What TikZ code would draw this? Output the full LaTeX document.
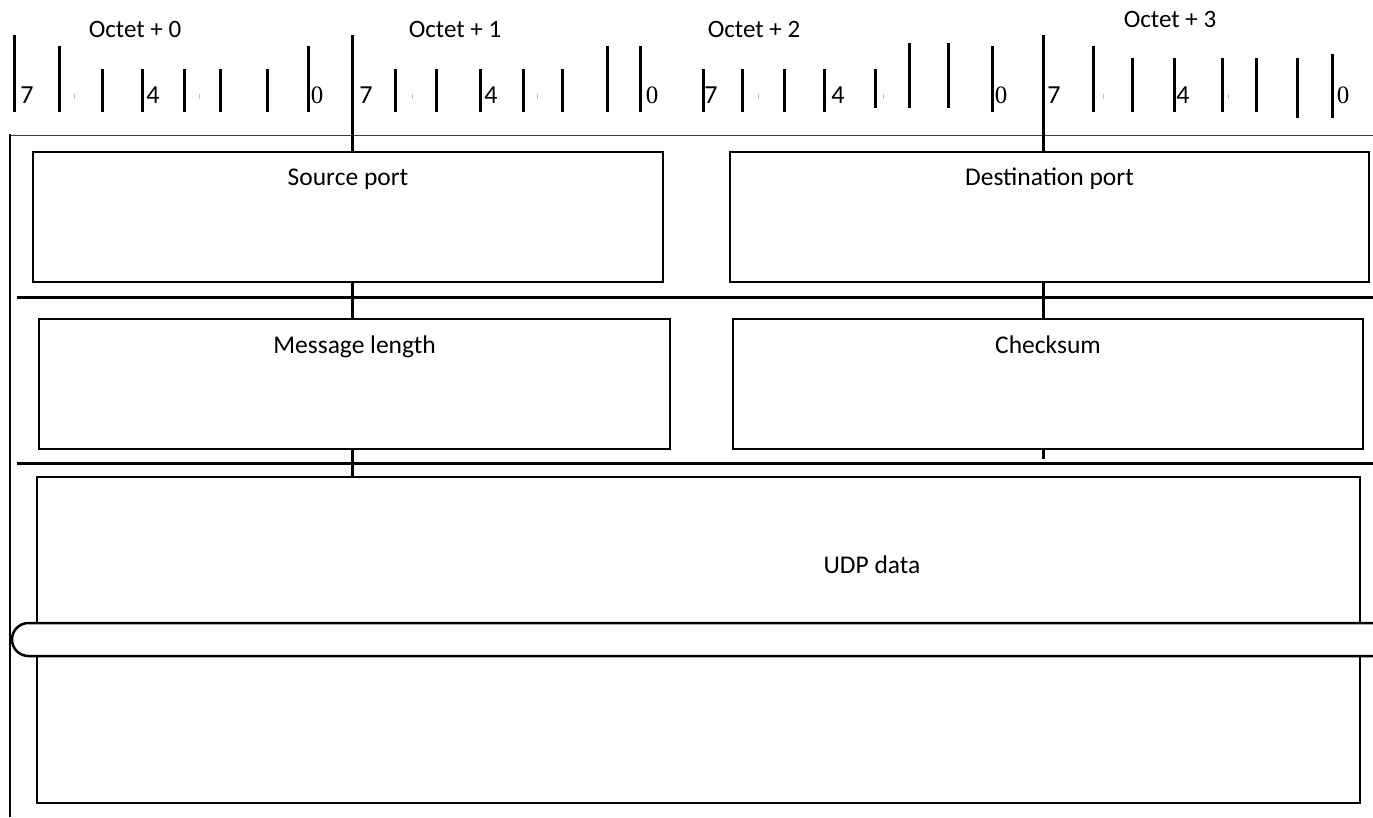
\documentclass[tikz,border=0pt]{standalone}
\usepackage{fontspec}
\setmainfont{Carlito}
\newfontfamily\serifdig{Liberation Serif}
\begin{document}
\begin{tikzpicture}[x=1pt,y=-1pt,
  box/.style={draw=black,line width=2.5pt,fill=none,inner sep=0pt,outer sep=0pt},
  lbl/.style={inner sep=0pt,outer sep=0pt,anchor=base,font=\fontsize{25.5}{30}\selectfont},
  olbl/.style={inner sep=0pt,outer sep=0pt,anchor=base,font=\fontsize{25}{30}\selectfont},
  dig/.style={inner sep=0pt,outer sep=0pt,anchor=base,font=\fontsize{26}{30}\selectfont},
  sdig/.style={inner sep=0pt,outer sep=0pt,anchor=base,font=\serifdig\fontsize{25}{30}\selectfont},
  tick/.style={line width=3pt},
  sep/.style={line width=3pt},
  faint/.style={line width=1pt,draw=black!25}]
\useasboundingbox (0,0) rectangle (1373,817);
% frame lines
\draw[line width=1pt,draw=black!75] (10,135) -- (1373,135);
\draw[sep] (17,297) -- (1373,297);
\draw[sep] (17,463) -- (1373,463);
% boxes
\node[box,minimum width=630pt,minimum height=130pt] (src) at (348,217) {};
\node[box,minimum width=639pt,minimum height=130pt] (dst) at (1049.5,217) {};
\node[box,minimum width=631pt,minimum height=130pt] (len) at (354.5,384) {};
\node[box,minimum width=630pt,minimum height=130pt] (chk) at (1048,384) {};
\node[box,minimum width=1323pt,minimum height=326pt] (data) at (698.5,640) {};
\node[lbl] (tsrc) at ([yshift=-33pt]src.north) {Source port};
\node[lbl] (tdst) at ([yshift=-33pt]dst.north) {Destination port};
\node[lbl] (tlen) at ([yshift=-34pt]len.north) {Message length};
\node[lbl] (tchk) at ([yshift=-34pt]chk.north) {Checksum};
\node[lbl] (tdata) at (872,573) {UDP data};
% break band
\fill[white,rounded corners=16.5pt] (1390,623) -- (12,623) -- (12,656) -- (1390,656) -- cycle;
\draw[line width=2.5pt,rounded corners=16.5pt] (1390,623) -- (12,623) -- (12,656) -- (1390,656);
\draw[line width=2pt] (10,134) -- (10,817);
% octet dividers
\draw[tick] (352,35) -- (352,152);
\draw[tick] (352,282) -- (352,318);
\draw[tick] (352,448) -- (352,477);
\draw[tick] (1043,35) -- (1043,152);
\draw[tick] (1043,282) -- (1043,318);
\draw[tick] (1043,448) -- (1043,459);
% ticks octet 0
\draw[tick] (14,35) -- (14,112);
\draw[tick] (59,46) -- (59,112);
\foreach \x in {102,142,184,220,267} \draw[tick] (\x,69) -- (\x,112);
\draw[tick] (308,46) -- (308,112);
% ticks octet 1
\foreach \x in {395,436,480,523,562} \draw[tick] (\x,69) -- (\x,112);
\draw[tick] (607,46) -- (607,112);
\draw[tick] (640,46) -- (640,112);
% ticks octet 2
\foreach \x in {703,742,784,824} \draw[tick] (\x,69) -- (\x,112);
\draw[tick] (875,69) -- (875,108);
\draw[tick] (909,43) -- (909,108);
\draw[tick] (948,43) -- (948,108);
\draw[tick] (992,46) -- (992,112);
% ticks octet 3
\draw[tick] (1093,46) -- (1093,112);
\foreach \x in {1132,1174,1222,1256} \draw[tick] (\x,58) -- (\x,112);
\draw[tick] (1297,58) -- (1297,118);
\draw[tick] (1332,54) -- (1332,118);
% faint marks
\foreach \x in {74,199,412,537,758,883,1103,1228} \draw[faint] (\x,94) -- (\x,99);
% octet labels
\node[olbl] (o0) at (135,37) {Octet + 0};
\node[olbl] (o1) at (455,37) {Octet + 1};
\node[olbl] (o2) at (754,37) {Octet + 2};
\node[olbl] (o3) at (1170,27) {Octet + 3};
% bit digits
\foreach \a/\b/\c [count=\i] in {27/153/317,366/491/652,711/838/1001,1054/1183/1343}{
  \node[dig] (s\i) at (\a,103) {7};
  \node[dig] (f\i) at (\b,103) {4};
  \node[sdig] (z\i) at (\c,103) {0};
}
\end{tikzpicture}
\end{document}
